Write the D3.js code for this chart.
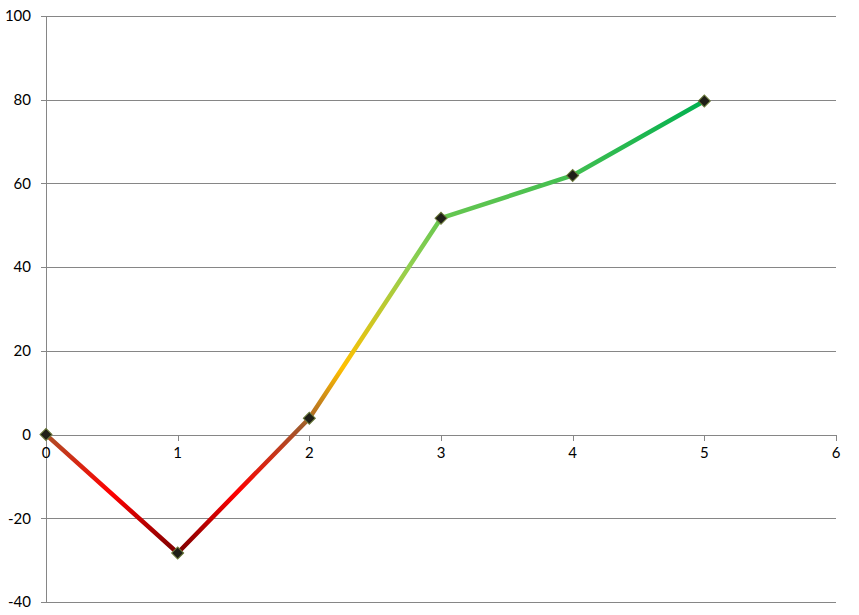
<!DOCTYPE html>
<html>
<head>
<meta charset="utf-8">
<script src="https://cdn.jsdelivr.net/npm/d3@7"></script>
<style>
  body { margin: 0; background: #fff; }
  svg text { font-family: Lato, "Open Sans", sans-serif; font-size: 15px; fill: #000; }
</style>
</head>
<body>
<svg id="chart" width="859" height="615"></svg>
<script>
const xValues = [0, 1, 2, 3, 4, 5];
const yValues = [0, -28.3, 3.9, 51.7, 61.9, 79.7];
const xTicks = [0, 1, 2, 3, 4, 5, 6];
const yTicks = [-40, -20, 0, 20, 40, 60, 80, 100];

// colour stops along the value axis (value -> colour)
const stopValues = [-28.3, -14, 2, 16, 40, 79.7];
const stopColors = ["#7a0000", "#ff0000", "#a05a2c", "#ffc000", "#92d050", "#00b050"];

const svg = d3.select("#chart");
const margin = { left: 46, right: 23, top: 16, bottom: 13 };
const width = 859, height = 615;

const x = d3.scaleLinear().domain([0, 6]).range([margin.left, width - margin.right]);
const y = d3.scaleLinear().domain([-40, 100]).range([height - margin.bottom, margin.top]);

const grey = "#868686";

// gridlines
svg.append("g")
  .selectAll("line")
  .data(yTicks)
  .join("line")
  .attr("x1", x(0) - 5)
  .attr("x2", x(6))
  .attr("y1", d => Math.round(y(d)) + 0.5)
  .attr("y2", d => Math.round(y(d)) + 0.5)
  .attr("stroke", grey)
  .attr("stroke-width", 1);

// y axis line
svg.append("line")
  .attr("x1", x(0) + 0.5).attr("x2", x(0) + 0.5)
  .attr("y1", y(100)).attr("y2", y(-40))
  .attr("stroke", grey);

// x tick marks hanging below zero line
svg.append("g")
  .selectAll("line")
  .data(xTicks.slice(1))
  .join("line")
  .attr("x1", d => Math.round(x(d)) + 0.5)
  .attr("x2", d => Math.round(x(d)) + 0.5)
  .attr("y1", Math.round(y(0)))
  .attr("y2", Math.round(y(0)) + 6)
  .attr("stroke", grey);

// y labels
svg.append("g")
  .selectAll("text")
  .data(yTicks)
  .join("text")
  .attr("x", 31)
  .attr("y", d => y(d))
  .attr("dy", "0.35em")
  .attr("text-anchor", "end")
  .text(d => d);

// x labels
svg.append("g")
  .selectAll("text")
  .data(xTicks)
  .join("text")
  .attr("x", d => x(d))
  .attr("y", y(0) + 23)
  .attr("text-anchor", "middle")
  .text(d => d);

// value gradient
const lo = d3.min(stopValues), hi = d3.max(stopValues);
const grad = svg.append("defs").append("linearGradient")
  .attr("id", "valGrad")
  .attr("gradientUnits", "userSpaceOnUse")
  .attr("x1", 0).attr("x2", 0)
  .attr("y1", y(lo))
  .attr("y2", y(hi));

grad.selectAll("stop")
  .data(stopValues)
  .join("stop")
  .attr("offset", d => (d - lo) / (hi - lo))
  .attr("stop-color", (d, i) => stopColors[i]);

const points = xValues.map((v, i) => [v, yValues[i]]);

const line = d3.line()
  .x(d => x(d[0]))
  .y(d => y(d[1]));

svg.append("path")
  .datum(points)
  .attr("d", line)
  .attr("fill", "none")
  .attr("stroke", "url(#valGrad)")
  .attr("stroke-width", 4.5)
  .attr("stroke-linejoin", "round");

// diamond markers
svg.append("g")
  .selectAll("path")
  .data(points)
  .join("path")
  .attr("d", d3.symbol(d3.symbolSquare, 72)())
  .attr("transform", d => `translate(${x(d[0])},${y(d[1])}) rotate(45)`)
  .attr("fill", "#1f1f17")
  .attr("stroke", "#6b7a3a")
  .attr("stroke-width", 1);
</script>
</body>
</html>
